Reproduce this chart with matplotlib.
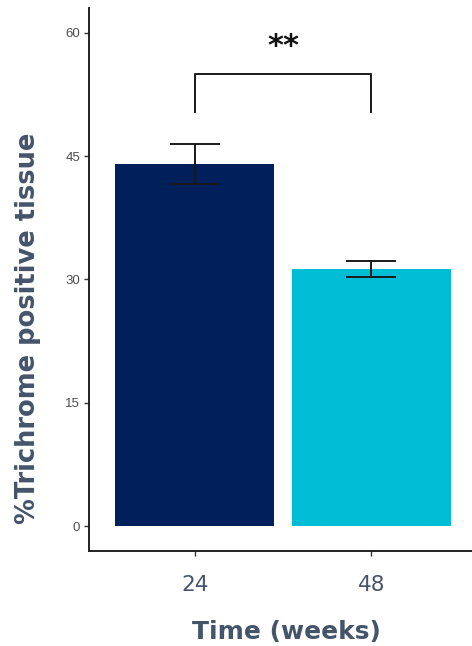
import numpy as np
import matplotlib
matplotlib.use("Agg")
import matplotlib.pyplot as plt

plt.rcParams["font.family"] = ["Liberation Sans", "DejaVu Sans"]

# trichrome staining at two time points
weeks = ["24", "48"]
pct_positive = [44.0, 31.3]
sem = [2.45, 1.0]
bar_colors = ["#011f5b", "#00bcd4"]
y_ticks = [0, 15, 30, 45, 60]
signif_label = "**"
bracket_low, bracket_high = 50.2, 55.0

label_col = "#44546a"
label_font = ["DejaVu Sans"]

fig = plt.figure(figsize=(4.72, 6.46), dpi=100)
ax = fig.add_axes([89 / 472, 95 / 646, 1 - 89 / 472, 543 / 646])

x = np.arange(1, len(weeks) + 1)
ax.bar(x, pct_positive, width=0.9, color=bar_colors, zorder=1)
ax.errorbar(x, pct_positive, yerr=sem, fmt="none", ecolor="#1a1a1a",
            elinewidth=1.4, capsize=18, capthick=1.4, zorder=2)

# significance bracket between the two bars
ax.plot([x[0], x[0], x[1], x[1]],
        [bracket_low, bracket_high, bracket_high, bracket_low],
        color="#1a1a1a", lw=1.4, solid_capstyle="butt")
ax.text(x.mean(), bracket_high + 3.3, signif_label, ha="center", va="center",
        fontsize=22, fontweight="bold", family=label_font, color="#111111")

ax.set_xlim(0.4, 2.57)
ax.set_ylim(-3, 63)
ax.set_xticks(x)
ax.set_xticklabels(weeks, family=label_font)
ax.set_yticks(y_ticks)

for side in ["top", "right"]:
    ax.spines[side].set_visible(False)
for side in ["left", "bottom"]:
    ax.spines[side].set_linewidth(1.4)
    ax.spines[side].set_color("#222222")

ax.tick_params(axis="y", length=3.5, width=1, color="#333333",
               labelsize=9.5, labelcolor="#4d4d4d", pad=3)
ax.tick_params(axis="x", length=3.5, width=1, color="#333333",
               labelsize=15.5, labelcolor=label_col, pad=14)

ax.set_xlabel("Time (weeks)", fontsize=18, fontweight="bold",
              color=label_col, family=label_font, va="center")
ax.set_ylabel("%Trichrome positive tissue", fontsize=18.5, fontweight="bold",
              color=label_col, family=label_font, va="center")
ax.xaxis.set_label_coords(197 / 383, -81 / 543)
ax.yaxis.set_label_coords(-61 / 383, 223 / 543)

fig.savefig("out.png", dpi=100)
